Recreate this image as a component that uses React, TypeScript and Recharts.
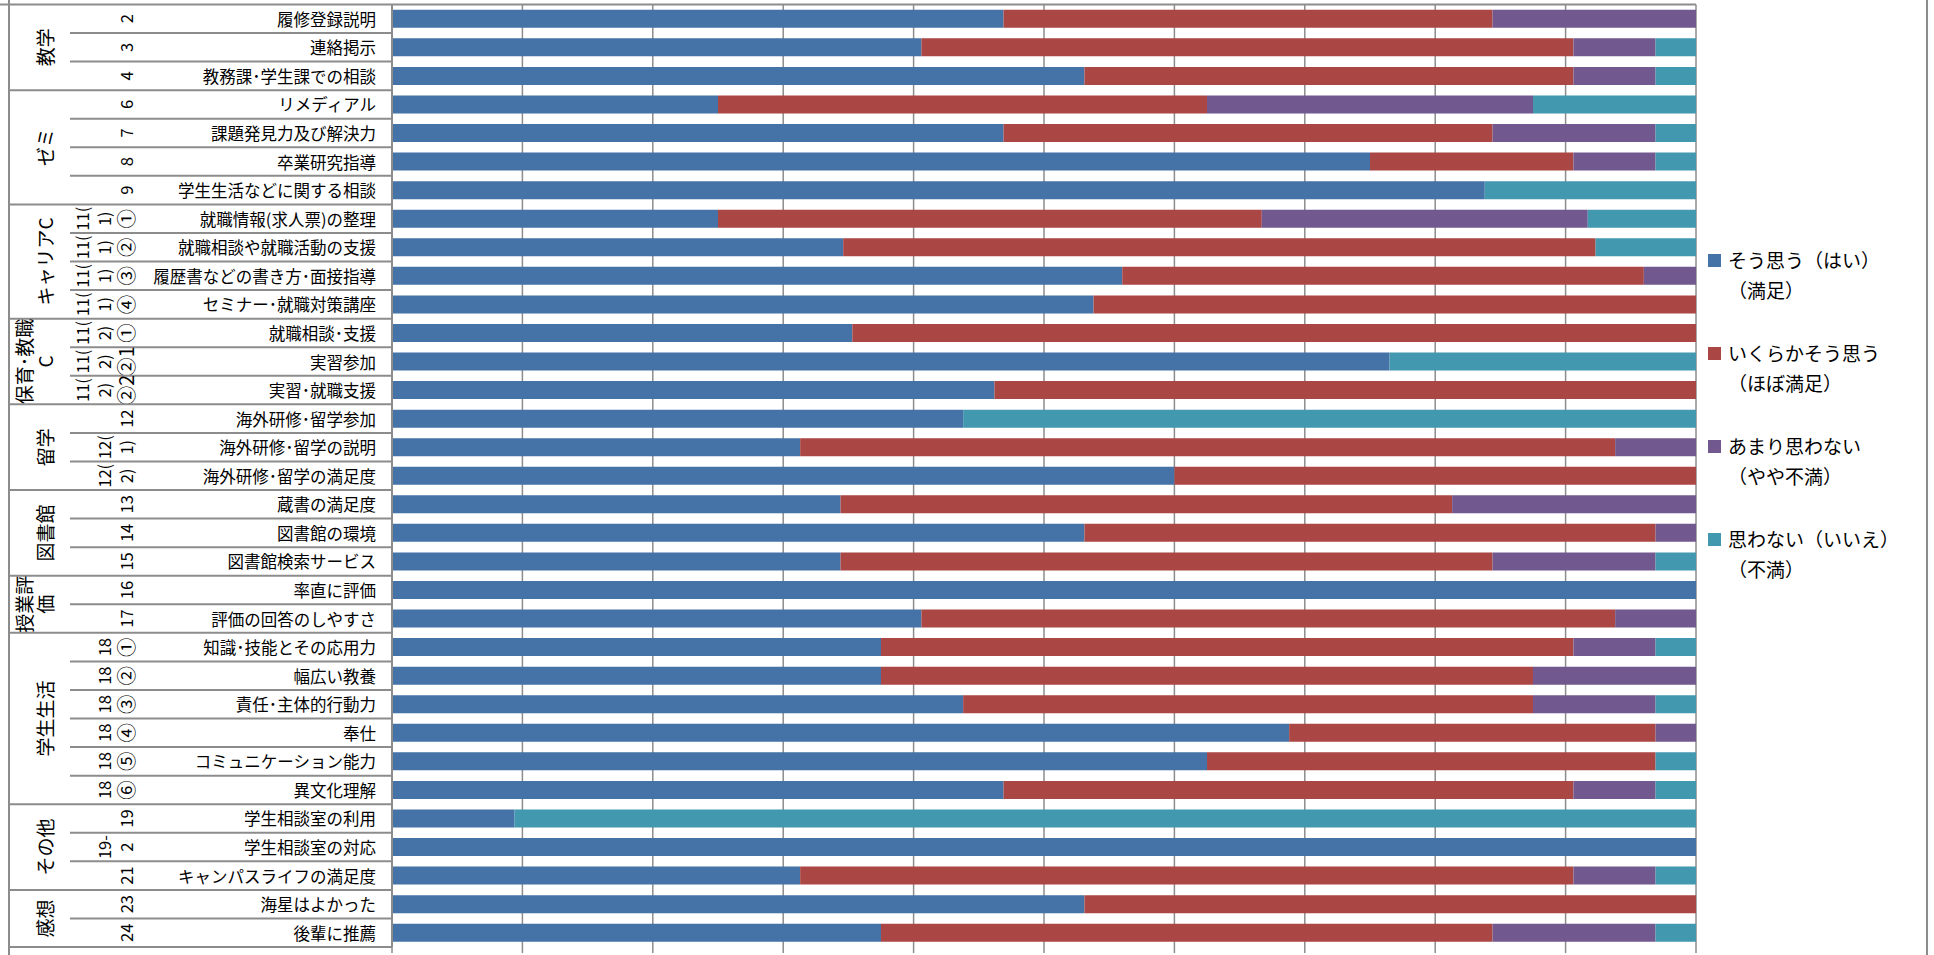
import React from "react";
import { BarChart, Bar, XAxis, YAxis, CartesianGrid } from "recharts";

// question labels, top to bottom
const labels = [
  "履修登録説明", "連絡掲示", "教務課･学生課での相談",
  "リメディアル", "課題発見力及び解決力", "卒業研究指導", "学生生活などに関する相談",
  "就職情報(求人票)の整理", "就職相談や就職活動の支援", "履歴書などの書き方･面接指導", "セミナー･就職対策講座",
  "就職相談･支援", "実習参加", "実習･就職支援",
  "海外研修･留学参加", "海外研修･留学の説明", "海外研修･留学の満足度",
  "蔵書の満足度", "図書館の環境", "図書館検索サービス",
  "率直に評価", "評価の回答のしやすさ",
  "知識･技能とその応用力", "幅広い教養", "責任･主体的行動力", "奉仕", "コミュニケーション能力", "異文化理解",
  "学生相談室の利用", "学生相談室の対応", "キャンパスライフの満足度",
  "海星はよかった", "後輩に推薦",
];

// question numbers (wrapped lines, drawn rotated)
const numbers = [
  ["2"], ["3"], ["4"],
  ["6"], ["7"], ["8"], ["9"],
  ["11(", "1)", "①"], ["11(", "1)", "②"], ["11(", "1)", "③"], ["11(", "1)", "④"],
  ["11(", "2)", "①"], ["11(", "2)", "②1"], ["11(", "2)", "②2"],
  ["12"], ["12(", "1)"], ["12(", "2)"],
  ["13"], ["14"], ["15"],
  ["16"], ["17"],
  ["18", "①"], ["18", "②"], ["18", "③"], ["18", "④"], ["18", "⑤"], ["18", "⑥"],
  ["19"], ["19-", "2"], ["21"],
  ["23"], ["24"],
];

const groupNames = [["教学"], ["ゼミ"], ["キャリアC"], ["保育･教職", "C"], ["留学"], ["図書館"], ["授業評", "価"], ["学生生活"], ["その他"], ["感想"]];
const groupSizes = [3, 4, 4, 3, 3, 3, 2, 6, 3, 2];

// percentages
const yes = [46.9, 40.6, 53.1, 25, 46.9, 75, 83.8, 25, 34.6, 56, 53.8, 35.3, 76.5, 46.2, 43.8, 31.3, 60, 34.4, 53.1, 34.4, 100, 40.6, 37.5, 37.5, 43.8, 68.8, 62.5, 46.9, 9.4, 100, 31.3, 53.1, 37.5];
const somewhat = [37.5, 50, 37.5, 37.5, 37.5, 15.6, 0, 41.7, 57.7, 40, 46.2, 64.7, 0, 53.8, 0, 62.5, 40, 46.9, 43.8, 50, 0, 53.2, 53.1, 50, 43.7, 28.1, 34.4, 43.7, 0, 0, 59.3, 46.9, 46.9];
const notMuch = [15.6, 6.3, 6.3, 25, 12.5, 6.3, 0, 25, 0, 4, 0, 0, 0, 0, 0, 6.2, 0, 18.7, 3.1, 12.5, 0, 6.2, 6.3, 12.5, 9.4, 3.1, 0, 6.3, 0, 0, 6.3, 0, 12.5];
const no = [0, 3.1, 3.1, 12.5, 3.1, 3.1, 16.2, 8.3, 7.7, 0, 0, 0, 23.5, 0, 56.2, 0, 0, 0, 0, 3.1, 0, 0, 3.1, 0, 3.1, 0, 3.1, 3.1, 90.6, 0, 3.1, 0, 3.1];

const xTicks = [0, 10, 20, 30, 40, 50, 60, 70, 80, 90, 100];

const SERIES = [
  { key: "yes", color: "#4572A7", lines: ["そう思う（はい）", "（満足）"] },
  { key: "somewhat", color: "#AA4643", lines: ["いくらかそう思う", "（ほぼ満足）"] },
  { key: "notMuch", color: "#71588F", lines: ["あまり思わない", "（やや不満）"] },
  { key: "no", color: "#4198AF", lines: ["思わない（いいえ）", "（不満）"] },
];

const W = 1934;
const H = 955;
const M_TOP = 4.5;
const X_AXIS_H = 8;
const M_LEFT = 9;
const Y_AXIS_W = 383;
const M_RIGHT = 238;
const PLOT_LEFT = M_LEFT + Y_AXIS_W;
const PLOT_RIGHT = W - M_RIGHT;
const ROW_H = (H - M_TOP - X_AXIS_H) / labels.length;
const FONT = "'Noto Sans CJK JP', 'Noto Sans', sans-serif";
const LINE = "#8c8c8c";

const data = labels.map((name, i) => ({
  name,
  yes: yes[i],
  somewhat: somewhat[i],
  notMuch: notMuch[i],
  no: no[i],
}));

// which group each row belongs to
const rowGroup: { start: number; size: number; names: string[] }[] = [];
{
  let s = 0;
  groupSizes.forEach((size, g) => {
    for (let k = 0; k < size; k++) rowGroup.push({ start: s, size, names: groupNames[g] });
    s += size;
  });
}

const circled = /[①②③④⑤⑥]/;

function rotatedLines(lines: string[], lastX: number, cy: number, step: number, size: number, key: string) {
  const n = lines.length;
  return lines.map((t, k) => {
    const x = lastX - (n - 1 - k) * step;
    const fs = circled.test(t) ? size + 3 : size;
    return (
      <text
        key={key + k}
        x={x}
        y={cy}
        transform={`rotate(-90 ${x} ${cy})`}
        textAnchor="middle"
        dominantBaseline="central"
        fontSize={fs}
        fontFamily={FONT}
        fill="#000"
      >
        {t}
      </text>
    );
  });
}

function CategoryTick(props: any) {
  const { y, payload } = props;
  let i = payload.index;
  if (typeof i !== "number") i = labels.indexOf(payload.value);
  const g = rowGroup[i];
  const top = y - ROW_H / 2;
  const bottom = y + ROW_H / 2;
  const isFirst = g.start === i;
  return (
    <g>
      {i === 0 ? (
        <line x1={0} x2={PLOT_RIGHT} y1={top} y2={top} stroke={LINE} strokeWidth={2} />
      ) : isFirst ? (
        <line x1={M_LEFT} x2={PLOT_LEFT} y1={top} y2={top} stroke={LINE} strokeWidth={2} />
      ) : (
        <line x1={70} x2={PLOT_LEFT} y1={top} y2={top} stroke={LINE} strokeWidth={2} />
      )}
      {i === labels.length - 1 && (
        <line x1={M_LEFT} x2={PLOT_LEFT} y1={bottom} y2={bottom} stroke={LINE} strokeWidth={2} />
      )}
      <text x={376} y={y} textAnchor="end" dominantBaseline="central" fontSize={16.5} fontFamily={FONT} fill="#000">
        {payload.value}
      </text>
      {rotatedLines(numbers[i], 126, y, 22, 16.5, "n")}
      {isFirst && rotatedLines(g.names, 45, y + ((g.size - 1) / 2) * ROW_H, 21, 19, "g")}
    </g>
  );
}

function LegendBox() {
  return (
    <div style={{ position: "absolute", left: 1708, top: 245, fontFamily: FONT, fontSize: 19, color: "#000" }}>
      {SERIES.map((s) => (
        <div key={s.key} style={{ position: "relative", paddingLeft: 20, marginBottom: 33, lineHeight: "30px" }}>
          <span
            style={{ position: "absolute", left: 0, top: 9, width: 13, height: 13, background: s.color }}
          />
          <div style={{ whiteSpace: "nowrap" }}>{s.lines[0]}</div>
          <div style={{ whiteSpace: "nowrap" }}>{s.lines[1]}</div>
        </div>
      ))}
    </div>
  );
}

export default function App() {
  return (
    <div style={{ position: "absolute", left: 0, top: 0, width: W, height: H, background: "#fff" }}>
      <BarChart
        width={W}
        height={H}
        data={data}
        layout="vertical"
        barCategoryGap="18.5%"
        margin={{ top: M_TOP, right: M_RIGHT, bottom: 0, left: M_LEFT }}
      >
        <CartesianGrid horizontal={false} stroke={LINE} strokeWidth={1.5} />
        <XAxis
          type="number"
          domain={[0, 100]}
          ticks={xTicks}
          allowDataOverflow
          height={X_AXIS_H}
          axisLine={false}
          tickSize={6}
          tickLine={{ stroke: LINE, strokeWidth: 1.5 }}
          tickFormatter={() => ""}
        />
        <YAxis
          type="category"
          dataKey="name"
          width={Y_AXIS_W}
          interval={0}
          tickLine={false}
          axisLine={{ stroke: LINE, strokeWidth: 2 }}
          tick={(p: any) => <CategoryTick {...p} />}
        />
        {SERIES.map((s) => (
          <Bar key={s.key} dataKey={s.key} stackId="a" fill={s.color} name={s.lines.join("")} isAnimationActive={false} />
        ))}
      </BarChart>
      <LegendBox />
      <svg width={W} height={H} style={{ position: "absolute", left: 0, top: 0, pointerEvents: "none" }}>
        <line x1={M_LEFT} x2={M_LEFT} y1={0} y2={H} stroke={LINE} strokeWidth={2} />
        <line x1={1927} x2={1927} y1={0} y2={H} stroke={LINE} strokeWidth={2} />
      </svg>
    </div>
  );
}
